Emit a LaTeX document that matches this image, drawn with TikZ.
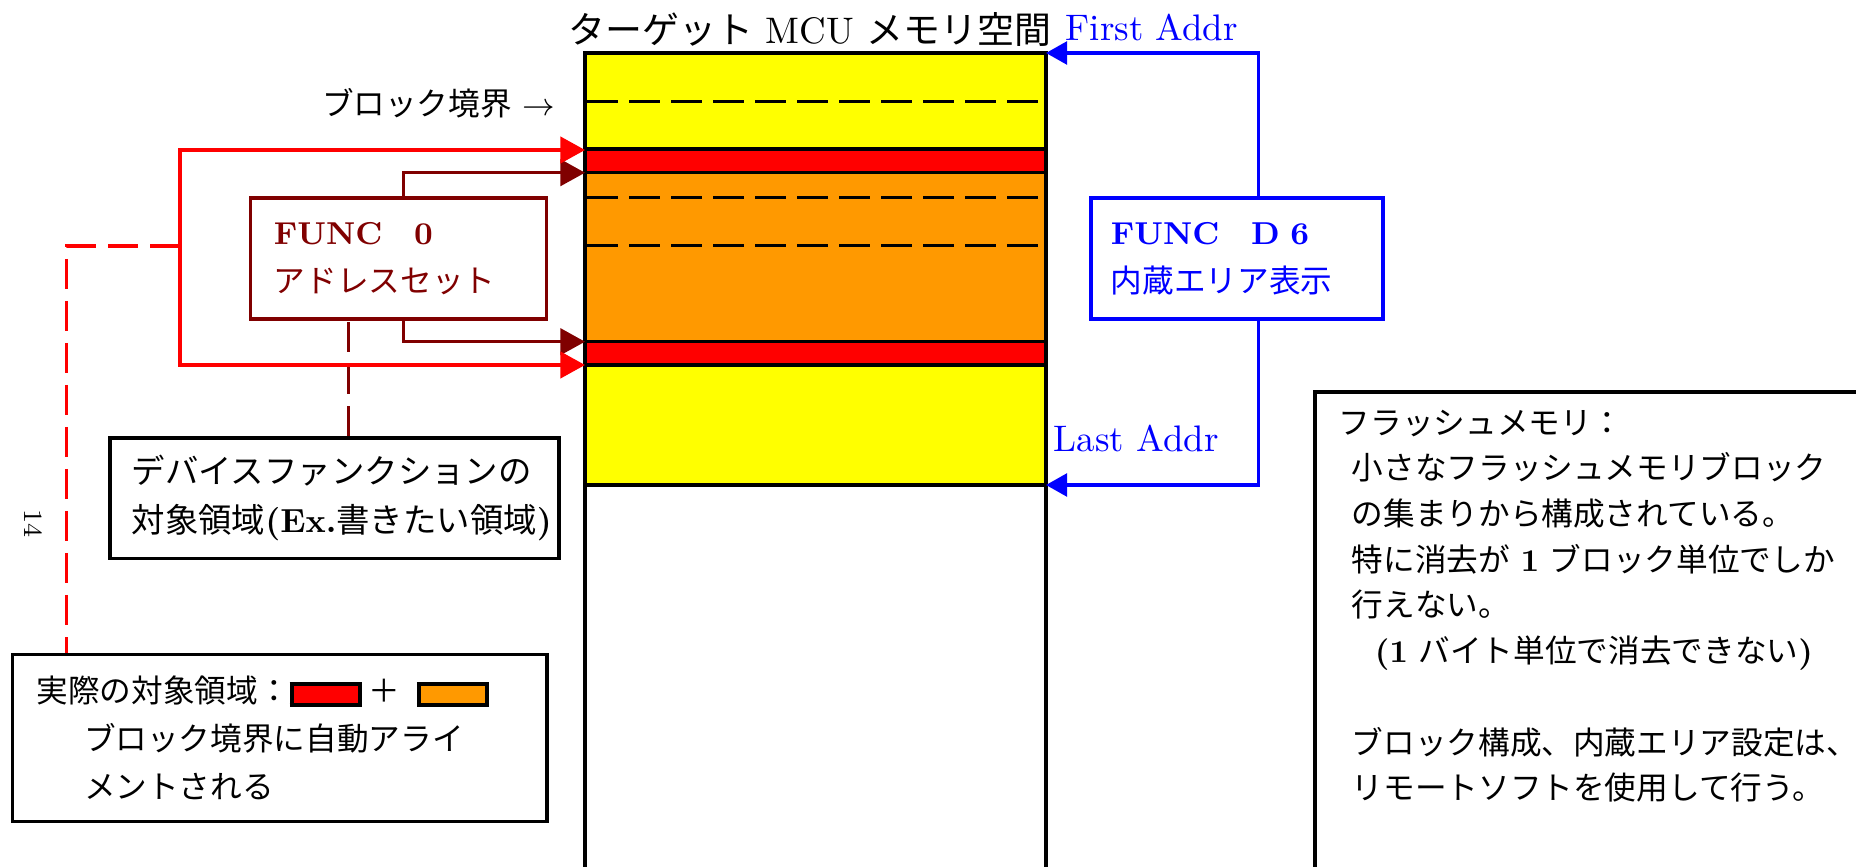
\documentclass[tikz,border=0pt]{standalone}
\usepackage{fontspec}
\usepackage{xcolor}
\usepackage{tikz}
\usetikzlibrary{arrows.meta}
\newfontfamily\jp{Noto Sans CJK JP}
\definecolor{memyellow}{HTML}{FFFF00}
\definecolor{memorange}{HTML}{FF9900}
\definecolor{memred}{HTML}{FF0000}
\definecolor{funcred}{HTML}{800000}
\definecolor{funcblue}{HTML}{0000FF}
\newcommand{\swatch}[1]{{\setlength{\fboxsep}{0pt}\setlength{\fboxrule}{1.2pt}\fcolorbox{black}{#1}{\rule{0pt}{0.17cm}\hspace{0.64cm}}}}
\tikzset{
  funcbox/.style={rectangle,draw=#1,text=#1,line width=1pt,align=left,anchor=north west,minimum height=1.205cm,inner ysep=0pt,font=\fontsize{9}{13.8}\selectfont},
  notebox/.style={rectangle,draw=black,line width=1pt,align=left,anchor=north west,inner ysep=0pt,font=\fontsize{9}{13.6}\selectfont},
  band/.style={draw=black,line width=1pt},
  blockline/.style={draw=black,line width=1pt,dash pattern=on 0.31cm off 0.11cm},
  selarrow/.style={-{Triangle[length=7pt,width=7.5pt]},line width=0.9pt,draw=#1},
  addrarrow/.style={-{Triangle[length=6pt,width=6.5pt]},line width=0.9pt,draw=funcblue},
  linkdash/.style={line width=0.9pt,draw=#1,dash pattern=on 0.3cm off 0.12cm}
}
\begin{document}
\begin{tikzpicture}[x=0.01cm,y=-0.01cm]
\useasboundingbox (0,0) rectangle (1856,867);
\clip (0,0) rectangle (1856,867);
% memory column
\fill[memyellow] (585,53) rectangle (1046,149);
\fill[memred] (585,149) rectangle (1046,172.7);
\fill[memorange] (585,172.7) rectangle (1046,341.7);
\fill[memred] (585,341.7) rectangle (1046,365);
\fill[memyellow] (585,365) rectangle (1046,485);
\foreach \y in {101.7,197.7,245.7}
  \draw[blockline] (587,\y) -- (1040,\y);
\foreach \y in {149,172.7,341.7,365,485}
  \draw[band] (585,\y) -- (1046,\y);
\draw[band] (585,900) -- (585,53) -- (1046,53) -- (1046,900);
\coordinate (selTop) at (585,150);
\coordinate (alignTop) at (585,172.7);
\coordinate (alignBot) at (585,341.7);
\coordinate (selBot) at (585,365);
\coordinate (firstAddr) at (1046,53);
\coordinate (lastAddr) at (1046,485);
\coordinate (split) at (180,246);
% labels
\node[font=\fontsize{10.5}{12}\selectfont] (title) at (810,29) {{\jp ターゲット} MCU {\jp メモリ空間}};
\node[anchor=west,inner sep=0pt,text=funcblue,font=\fontsize{10.5}{12}\selectfont] (firstLbl) at (1065,27) {First Addr};
\node[anchor=west,inner sep=0pt,text=funcblue,font=\fontsize{10.5}{12}\selectfont] (lastLbl) at (1053,438) {Last Addr};
\node[anchor=east,inner sep=0pt,font=\fontsize{9}{12}\selectfont] (blockLbl) at (556,103) {{\jp ブロック境界} $\rightarrow$};
\node[rotate=-90,inner sep=0pt,font=\fontsize{7.5}{9}\selectfont] (sizeLbl) at (33,524) {14};
% boxes
\node[funcbox=funcred,text width=2.49cm,inner xsep=0.234cm] (func0) at (248.6,196.5)
  {\textbf{FUNC}\quad\textbf{0}\\{\jp アドレスセット}};
\node[funcbox=funcblue,text width=2.52cm,inner xsep=0.2cm] (d6) at (1089,196.5)
  {\textbf{FUNC}\quad\textbf{D 6}\\{\jp 内蔵エリア表示}};
\node[notebox,text width=4.05cm,inner xsep=0.22cm,minimum height=1.205cm,font=\fontsize{9.5}{14}\selectfont] (devfunc) at (108,436)
  {{\jp デバイスファンクションの}\\{\jp 対象領域}\textbf{(Ex.}{\jp 書きたい領域}\textbf{)}};
\node[notebox,text width=4.86cm,inner xsep=0.24cm,minimum height=1.67cm] (legend) at (10.7,652.7)
  {{\jp 実際の対象領域：}\swatch{memred}\hspace{0.06cm}{\jp ＋}\hspace{0.17cm}\swatch{memorange}\\
   \hspace*{0.475cm}{\jp ブロック境界に自動アライ}\\
   \hspace*{0.475cm}{\jp メントされる}};
\node[notebox,text width=5.6cm,inner xsep=0.24cm,inner ysep=0.18cm,font=\fontsize{9}{13}\selectfont] (flash) at (1313,390)
  {{\jp フラッシュメモリ：}\\
   \hspace*{0.13cm}{\jp 小さなフラッシュメモリブロック}\\
   \hspace*{0.13cm}{\jp の集まりから構成されている。}\\
   \hspace*{0.13cm}{\jp 特に消去が} \textbf{1} {\jp ブロック単位でしか}\\
   \hspace*{0.13cm}{\jp 行えない。}\\
   \hspace*{0.36cm}\textbf{(1} {\jp バイト単位で消去できない}\textbf{)}\\
   \mbox{}\\
   \hspace*{0.13cm}{\jp ブロック構成、内蔵エリア設定は、}\\
   \hspace*{0.13cm}{\jp リモートソフトを使用して行う。}\\
   \mbox{}\\
   \mbox{}};
% connectors
\draw[selarrow=funcred] ([xshift=0.05cm]func0.north) |- (alignTop);
\draw[selarrow=funcred] ([xshift=0.05cm]func0.south) |- (alignBot);
\draw[linkdash=funcred] ([xshift=0.145cm]devfunc.north) -- ([xshift=0.145cm]devfunc.north |- func0.south);
\draw[selarrow=memred] (split) |- (selTop);
\draw[selarrow=memred] (split) |- (selBot);
\draw[linkdash=memred] (split) -| ([xshift=0.56cm]legend.north west);
\draw[addrarrow] ([xshift=0.22cm]d6.north) |- (firstAddr);
\draw[addrarrow] ([xshift=0.22cm]d6.south) |- (lastAddr);
\end{tikzpicture}
\end{document}
